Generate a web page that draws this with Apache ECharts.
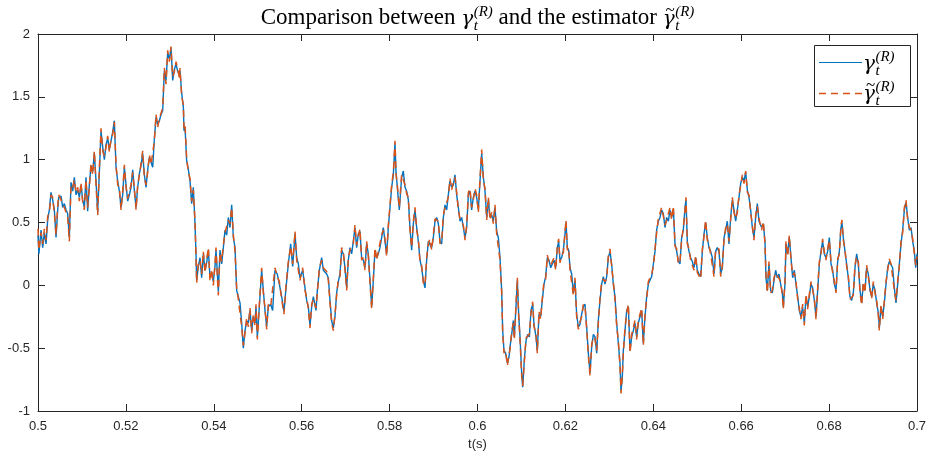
<!DOCTYPE html>
<html>
<head>
<meta charset="utf-8">
<script src="https://cdn.jsdelivr.net/npm/echarts@6/dist/echarts.min.js"></script>
<style>
html,body{margin:0;padding:0;background:#fff;}
#chart{width:930px;height:461px;}
</style>
</head>
<body>
<div id="chart"></div>
<script>
// ---------------- data ----------------
const time = [
0.5,0.5002,0.50069,0.50107,0.50145,0.50183,0.5022,0.50258,0.50296,0.50334,
0.50372,0.5041,0.50448,0.50471,0.50524,0.50562,0.506,0.50638,0.50676,0.50713,
0.50751,0.50789,0.50827,0.50865,0.50903,0.50941,0.50979,0.51017,0.51054,0.51092,
0.5113,0.51168,0.51206,0.51244,0.51282,0.5132,0.51358,0.51396,0.51434,0.51472,
0.5151,0.51548,0.51586,0.51624,0.51662,0.51699,0.51737,0.51775,0.51813,0.51851,
0.51889,0.51927,0.51965,0.52003,0.52041,0.52079,0.52117,0.52155,0.52193,0.52231,
0.52268,0.52306,0.52344,0.52382,0.5242,0.52458,0.52496,0.52534,0.52572,0.5261,
0.52648,0.52686,0.52724,0.52762,0.528,0.52837,0.52875,0.52913,0.52951,0.52989,
0.53027,0.53065,0.53103,0.53141,0.53179,0.53217,
0.53231,0.53269,0.53307,0.53322,0.53345,0.53383,0.53421,0.53459,0.53496,0.53534,
0.53572,0.53595,0.5361,0.53648,0.53686,0.53724,0.53762,0.538,0.53838,0.53876,
0.53914,0.53952,0.53989,0.54027,0.5405,0.5408,0.54103,0.54141,0.54179,0.54217,
0.54255,0.54293,0.54331,0.54369,0.54407,0.54445,0.54483,0.5452,0.54558,0.54596,
0.54634,0.54672,0.5471,0.54748,0.54786,0.54824,0.54862,0.549,0.54938,0.5496,
0.54991,0.55036,0.55089,0.55127,0.55165,0.55203,0.55241,0.55294,0.55339,0.55392,
0.55445,0.55491,0.55544,0.55597,0.55643,0.55696,0.55749,0.55794,0.55848,0.55886,
0.55924,0.55962,0.56022,0.56075,0.56113,0.56151,0.56189,0.56227,0.56265,0.56325,
0.56356,0.56401,0.56454,0.56492,
0.56568,0.56606,0.56644,0.56681,0.56719,0.56757,0.56795,0.56833,0.56871,0.56909,
0.56947,0.56985,0.57023,0.57061,0.57099,0.57137,0.57174,0.57212,0.5725,0.57288,
0.57326,0.57364,0.57402,0.5744,0.57478,0.57516,0.57554,0.57592,0.5763,0.57668,
0.57705,0.57743,0.57781,0.57819,0.57857,0.57895,0.57933,0.57971,0.58009,0.58047,
0.58085,0.58123,0.58145,0.58183,0.58221,0.58274,0.58312,0.5835,0.58388,0.58426,
0.58464,0.58502,0.5854,0.58578,0.58616,0.58654,0.58692,0.58729,0.58767,0.58805,
0.58843,0.58881,0.58919,0.58957,0.58995,0.59033,0.59071,0.59109,0.59147,0.59185,
0.59223,0.59261,0.59298,0.59336,0.59374,0.59412,0.5945,0.59488,0.59526,0.59564,
0.59602,0.5964,0.59678,0.59716,0.59754,0.59792,0.5983,
0.59867,0.59905,0.59943,0.59981,0.60019,0.60057,0.60095,0.60133,0.60171,0.60209,
0.60247,0.60285,0.60323,0.6036,0.60398,0.60436,0.60474,0.60512,0.6055,0.60573,
0.60603,0.60641,0.60679,0.60717,0.6074,0.60778,0.60815,0.60838,0.60876,0.60906,
0.60937,0.60967,0.61005,0.61028,0.61066,0.61104,0.61142,0.6118,0.61217,0.61255,
0.61286,0.61331,0.61361,0.61399,0.61437,0.61475,0.61513,0.61551,0.61589,0.61627,
0.61665,0.61703,0.61741,0.61779,0.61817,0.61847,0.61877,0.61915,0.61953,0.61991,
0.62014,0.62044,0.62074,0.62105,0.62143,0.62181,0.62218,0.62256,0.62294,0.62332,
0.6237,0.62408,0.62446,0.62484,0.62522,0.6256,0.62598,0.62636,0.62674,0.62712,
0.62749,0.62787,
0.62825,0.62863,0.62901,0.62939,0.62977,0.63015,0.63052,0.6309,0.63128,0.63166,
0.63204,0.63242,0.63265,0.63295,0.63318,0.63356,0.63394,0.63432,0.6347,0.63508,
0.63546,0.63583,0.63621,0.63659,0.63697,0.63735,0.63773,0.63811,0.63849,0.63887,
0.63925,0.63963,0.64001,0.64039,0.64076,0.64114,0.64152,0.6419,0.64228,0.64266,
0.64304,0.64342,0.6438,0.64418,0.64456,0.64494,0.64532,0.6457,0.64607,0.64645,
0.64683,0.64721,0.64744,0.64774,0.64812,0.6485,0.64888,0.64926,0.64964,0.65002,
0.6504,0.65078,0.65116,0.65154,0.65191,0.65229,0.65267,0.65305,0.65343,0.65381,
0.65419,0.65457,0.65495,0.65533,0.65571,0.65609,0.65647,0.65684,0.65722,0.6576,
0.65798,0.65836,0.65874,0.65912,0.6595,0.65988,0.66026,0.66064,0.66102,0.6614,
0.66177,0.66215,0.66253,0.66291,0.66329,0.66367,0.66405,
0.66428,0.66465,0.66503,0.66541,0.66564,0.66594,0.66632,0.6667,0.66708,0.66746,
0.66784,0.66822,0.6686,0.66898,0.66936,0.66958,0.66996,0.67019,0.67057,0.67095,
0.67133,0.67171,0.67209,0.67247,0.67285,0.67322,0.6736,0.67398,0.67436,0.67474,
0.67512,0.6755,0.67588,0.67626,0.67664,0.67702,0.6774,0.67778,0.67815,0.67853,
0.67891,0.67929,0.67967,0.68005,0.68043,0.68081,0.68119,0.68157,0.68195,0.68233,
0.6827,0.68293,0.68323,0.68361,0.68399,0.68437,0.68475,0.68513,0.68551,0.68589,
0.68627,0.68665,0.68703,0.68741,0.68778,0.68816,0.68854,0.68892,0.6893,0.68968,
0.69006,0.69044,0.69082,0.6912,0.69143,0.69181,0.69219,0.69257,0.69295,0.69333,
0.69371,0.69409,0.69446,0.69484,0.69522,0.6956,0.69598,0.69636,0.69674,0.69712,
0.6975,0.69788,0.69826,0.69864,0.69902,0.6994,0.6997,0.7
];

// gamma_t^(R)  (blue, solid)
const gammaR = [
0.40,0.25,0.44,0.30,0.42,0.33,0.52,0.60,0.74,0.68,
0.60,0.38,0.60,0.70,0.71,0.62,0.65,0.60,0.57,0.38,
0.82,0.75,0.86,0.72,0.76,0.70,0.80,0.68,0.62,0.86,
0.59,0.80,0.955,0.90,1.05,0.83,0.58,0.90,1.23,1.10,
1.00,1.12,1.17,1.08,1.15,1.22,1.31,0.94,0.83,0.75,
0.62,0.72,0.94,0.80,0.67,0.72,0.78,0.92,0.75,0.62,
0.78,0.89,0.95,1.05,0.88,0.78,0.92,1.02,0.98,0.94,
1.17,1.34,1.28,1.31,1.36,1.39,1.71,1.63,1.85,1.80,
1.89,1.63,1.72,1.76,1.70,1.68,
1.71,1.53,1.42,1.23,1.26,0.99,0.92,0.83,0.65,0.78,
0.49,0.25,0.04,0.15,0.22,0.06,0.25,0.12,0.18,0.28,
0.06,0.10,0.03,0.15,0.28,0.10,-0.05,0.28,0.17,0.30,
0.44,0.40,0.54,0.46,0.64,0.38,0.30,-0.04,-0.09,-0.14,
-0.30,-0.50,-0.36,-0.28,-0.30,-0.20,-0.36,-0.25,-0.30,-0.17,
-0.41,-0.17,0.12,-0.04,-0.20,-0.33,-0.17,-0.15,-0.20,0.12,
0.09,0.01,-0.09,-0.21,-0.02,0.17,0.33,0.15,0.41,0.22,
0.17,0.06,0.12,-0.02,-0.12,-0.17,-0.32,-0.17,-0.09,-0.20,
-0.04,0.12,0.22,0.12,
0.09,0.06,-0.12,-0.28,-0.34,-0.25,-0.06,0.03,0.09,0.28,
0.25,0.14,-0.02,0.20,0.30,0.25,0.35,0.46,0.30,0.41,
0.43,0.22,0.20,0.14,0.33,0.25,0.04,-0.17,0.04,0.28,
0.22,0.25,0.30,0.38,0.46,0.35,0.25,0.46,0.62,0.78,
0.88,1.13,0.91,0.75,0.60,0.86,0.91,0.78,0.75,0.68,
0.46,0.28,0.49,0.60,0.46,0.35,0.20,0.14,0.04,-0.02,
0.20,0.35,0.35,0.30,0.38,0.51,0.54,0.49,0.35,0.33,
0.54,0.64,0.60,0.72,0.83,0.78,0.80,0.88,0.72,0.62,
0.51,0.54,0.46,0.38,0.46,0.72,0.75,
0.60,0.70,0.75,0.70,0.60,0.83,1.05,0.86,0.75,0.54,
0.68,0.54,0.56,0.51,0.62,0.43,0.38,0.22,-0.04,-0.36,
-0.52,-0.54,-0.62,-0.57,-0.49,-0.39,-0.28,-0.41,-0.17,0.04,
-0.23,-0.41,-0.70,-0.81,-0.59,-0.44,-0.39,-0.41,-0.20,-0.15,
-0.31,-0.41,-0.52,-0.23,-0.25,-0.12,0.01,0.07,0.22,0.20,
0.14,0.17,0.20,0.14,0.30,0.35,0.20,0.22,0.28,0.41,
0.50,0.30,0.28,0.14,0.09,-0.06,0.04,-0.23,-0.33,-0.31,
-0.23,-0.17,-0.15,-0.33,-0.54,-0.70,-0.49,-0.39,-0.41,-0.54,
-0.28,-0.12,
0.01,0.07,0.01,0.07,0.22,0.27,0.17,0.01,-0.09,-0.30,
-0.46,-0.62,-0.84,-0.73,-0.52,-0.36,-0.20,-0.17,-0.52,-0.41,
-0.36,-0.30,-0.41,-0.30,-0.25,-0.20,-0.46,-0.25,-0.09,0.01,
0.04,0.07,0.17,0.27,0.44,0.51,0.54,0.60,0.57,0.46,
0.54,0.51,0.60,0.54,0.61,0.33,0.27,0.19,0.17,0.38,
0.44,0.62,0.68,0.35,0.27,0.22,0.19,0.14,0.22,0.12,
0.09,0.07,0.27,0.41,0.50,0.38,0.30,0.27,0.22,0.09,
0.27,0.30,0.27,0.09,0.14,0.38,0.44,0.51,0.33,0.54,
0.68,0.60,0.51,0.60,0.70,0.81,0.86,0.83,0.90,0.76,
0.70,0.60,0.46,0.38,0.54,0.65,0.51,
0.51,0.46,0.49,0.35,0.06,-0.04,0.17,-0.04,-0.06,0.04,
0.12,0.06,0.09,0.01,-0.06,-0.17,0.01,0.33,0.25,0.38,
0.22,0.06,0.12,0.01,-0.09,-0.20,-0.25,-0.17,-0.30,-0.09,
-0.17,-0.09,0.01,-0.02,-0.12,-0.25,-0.04,0.17,0.27,0.35,
0.25,0.22,0.27,0.38,0.17,0.12,0.01,-0.04,0.19,0.27,
0.46,0.50,0.38,0.27,0.17,0.06,-0.09,-0.12,-0.06,0.14,
0.25,0.17,-0.04,-0.14,0.01,-0.04,0.14,0.09,-0.04,-0.09,
0.01,-0.04,-0.14,-0.22,-0.34,-0.17,-0.25,-0.14,0.01,0.14,
0.19,0.19,0.14,-0.02,-0.14,0.01,0.17,0.33,0.44,0.60,
0.66,0.54,0.44,0.46,0.35,0.27,0.14,0.25
];

// estimator ~gamma_t^(R)  (orange, dashed)
const gammaHat = [
0.45,0.28,0.42,0.33,0.45,0.36,0.55,0.58,0.72,0.70,
0.57,0.40,0.63,0.72,0.68,0.64,0.62,0.63,0.54,0.35,
0.80,0.78,0.84,0.74,0.78,0.67,0.82,0.66,0.60,0.84,
0.62,0.78,0.97,0.88,1.07,0.80,0.56,0.93,1.25,1.07,
1.03,1.10,1.19,1.06,1.17,1.20,1.30,0.96,0.80,0.78,
0.60,0.75,0.96,0.78,0.69,0.70,0.80,0.90,0.77,0.60,
0.80,0.87,0.97,1.07,0.86,0.80,0.90,1.04,0.96,0.97,
1.15,1.36,1.26,1.33,1.34,1.41,1.73,1.60,1.87,1.78,
1.90,1.66,1.70,1.78,1.72,1.65,
1.73,1.50,1.44,1.25,1.28,1.01,0.90,0.85,0.67,0.76,
0.51,0.23,0.02,0.18,0.20,0.09,0.27,0.10,0.21,0.30,
0.03,0.13,0.00,0.17,0.30,0.07,-0.08,0.26,0.19,0.32,
0.42,0.43,0.52,0.49,0.62,0.40,0.27,-0.02,-0.11,-0.12,
-0.33,-0.48,-0.38,-0.26,-0.33,-0.18,-0.38,-0.23,-0.32,-0.15,
-0.43,-0.15,0.14,-0.06,-0.18,-0.35,-0.15,-0.17,-0.18,0.14,
0.07,0.03,-0.11,-0.23,0.00,0.19,0.31,0.17,0.43,0.20,
0.19,0.04,0.14,-0.04,-0.10,-0.19,-0.34,-0.15,-0.11,-0.18,
-0.06,0.14,0.20,0.14,
0.11,0.04,-0.14,-0.30,-0.36,-0.23,-0.08,0.05,0.07,0.30,
0.27,0.12,-0.04,0.22,0.28,0.27,0.33,0.48,0.32,0.39,
0.45,0.20,0.22,0.12,0.35,0.23,0.02,-0.19,0.06,0.30,
0.20,0.27,0.28,0.40,0.44,0.37,0.23,0.48,0.64,0.80,
0.90,1.15,0.89,0.77,0.62,0.88,0.89,0.80,0.73,0.70,
0.44,0.30,0.51,0.62,0.44,0.37,0.18,0.16,0.02,0.00,
0.22,0.33,0.37,0.28,0.40,0.53,0.52,0.51,0.33,0.35,
0.56,0.62,0.62,0.70,0.85,0.76,0.82,0.86,0.74,0.60,
0.53,0.52,0.48,0.36,0.48,0.74,0.77,
0.62,0.68,0.77,0.72,0.58,0.85,1.08,0.84,0.77,0.52,
0.70,0.52,0.58,0.49,0.64,0.41,0.40,0.20,-0.06,-0.38,
-0.54,-0.52,-0.64,-0.55,-0.51,-0.37,-0.30,-0.43,-0.15,0.06,
-0.25,-0.43,-0.72,-0.80,-0.61,-0.42,-0.41,-0.39,-0.22,-0.13,
-0.33,-0.39,-0.54,-0.21,-0.27,-0.10,0.03,0.05,0.24,0.18,
0.16,0.15,0.22,0.12,0.32,0.37,0.18,0.24,0.26,0.43,
0.52,0.28,0.30,0.12,0.11,-0.08,0.06,-0.25,-0.35,-0.29,
-0.25,-0.15,-0.17,-0.35,-0.56,-0.72,-0.47,-0.41,-0.43,-0.52,
-0.30,-0.10,
0.03,0.05,0.03,0.05,0.24,0.29,0.15,0.03,-0.11,-0.32,
-0.44,-0.64,-0.86,-0.71,-0.54,-0.34,-0.22,-0.15,-0.54,-0.39,
-0.38,-0.28,-0.43,-0.28,-0.27,-0.18,-0.48,-0.23,-0.11,0.03,
0.02,0.09,0.15,0.29,0.42,0.53,0.52,0.62,0.55,0.48,
0.52,0.53,0.62,0.52,0.63,0.31,0.29,0.17,0.19,0.36,
0.46,0.60,0.70,0.33,0.29,0.20,0.21,0.12,0.24,0.10,
0.11,0.05,0.29,0.39,0.52,0.36,0.32,0.25,0.24,0.07,
0.29,0.28,0.29,0.07,0.16,0.36,0.46,0.49,0.35,0.52,
0.70,0.58,0.53,0.58,0.72,0.79,0.88,0.81,0.91,0.74,
0.72,0.58,0.48,0.36,0.56,0.63,0.53,
0.53,0.44,0.51,0.33,0.08,-0.06,0.19,-0.06,-0.04,0.06,
0.10,0.08,0.07,0.03,-0.08,-0.19,0.03,0.35,0.23,0.40,
0.20,0.08,0.10,0.03,-0.11,-0.18,-0.27,-0.15,-0.32,-0.07,
-0.19,-0.07,0.03,-0.04,-0.10,-0.27,-0.02,0.19,0.25,0.37,
0.27,0.20,0.29,0.36,0.19,0.10,0.03,-0.06,0.21,0.25,
0.48,0.52,0.36,0.29,0.15,0.08,-0.11,-0.10,-0.08,0.16,
0.23,0.19,-0.06,-0.16,0.03,-0.06,0.16,0.07,-0.02,-0.11,
0.03,-0.06,-0.12,-0.24,-0.36,-0.15,-0.27,-0.12,0.03,0.12,
0.21,0.17,0.16,-0.04,-0.12,0.03,0.15,0.35,0.42,0.62,
0.68,0.52,0.46,0.44,0.37,0.25,0.16,0.23
];

const xTicks = {min: 0.5, max: 0.7, interval: 0.02};
const yTicks = {min: -1, max: 2, interval: 0.5};
const seriesNames = ['gamma', 'gammaHat'];

// ---------------- chart ----------------
const BLUE = '#0072BD', ORANGE = '#D95319', AX = '#262626';
const chart = echarts.init(document.getElementById('chart'), null, {renderer: 'canvas'});

const toPairs = arr => time.map((t, i) => [t, arr[i]]);

const cv = document.createElement('canvas').getContext('2d');
function tw(text, font) { cv.font = font; return cv.measureText(text).width; }

const SERIF = '"Liberation Serif", "DejaVu Serif", serif';
const F_MAIN = '23px ' + SERIF;
const F_G = 'italic 20px "DejaVu Serif", serif';
const F_SC = 'italic 15px ' + SERIF;

function gammaGroup(x, yBase, tilde, els) {
  els.push({type: 'text', x: x, y: yBase + 1, z: 100,
    style: {text: 'γ', font: F_G, fill: '#000', verticalAlign: 'bottom'}});
  const gw = tw('γ', F_G);
  if (tilde) {
    els.push({type: 'text', x: x + gw / 2 + 1.5, y: yBase - 10, z: 100,
      style: {text: '~', font: '17px ' + SERIF, fill: '#000', align: 'center', verticalAlign: 'bottom'}});
  }
  const sx = x + gw + 0.5;
  els.push({type: 'text', x: sx, y: yBase - 9, z: 100,
    style: {text: '(R)', font: F_SC, fill: '#000', verticalAlign: 'bottom'}});
  els.push({type: 'text', x: sx, y: yBase + 5, z: 100,
    style: {text: 't', font: F_SC, fill: '#000', verticalAlign: 'bottom'}});
  return gw + 0.5 + tw('(R)', F_SC);
}

const graphics = [];
(function () {
  const partA = 'Comparison between ';
  const partB = ' and the estimator ';
  const gW = tw('γ', F_G) + 0.5 + tw('(R)', F_SC);
  const total = tw(partA, F_MAIN) + gW + tw(partB, F_MAIN) + gW;
  const cx = (38 + 917) / 2;
  let x = cx - total / 2;
  const yb = 29;
  graphics.push({type: 'text', x: x, y: yb, z: 100,
    style: {text: partA, font: F_MAIN, fill: '#000', verticalAlign: 'bottom'}});
  x += tw(partA, F_MAIN);
  x += gammaGroup(x, yb, false, graphics);
  graphics.push({type: 'text', x: x, y: yb, z: 100,
    style: {text: partB, font: F_MAIN, fill: '#000', verticalAlign: 'bottom'}});
  x += tw(partB, F_MAIN);
  gammaGroup(x, yb, true, graphics);
})();

// legend box (MATLAB style)
graphics.push({type: 'rect', z: 100, shape: {x: 814.5, y: 45.5, width: 96, height: 61},
  style: {fill: '#fff', stroke: AX, lineWidth: 1}});
graphics.push({type: 'line', z: 101, shape: {x1: 819, y1: 62.5, x2: 862, y2: 62.5},
  style: {stroke: BLUE, lineWidth: 1.2}});
graphics.push({type: 'line', z: 101, shape: {x1: 819, y1: 93.5, x2: 862, y2: 93.5},
  style: {stroke: ORANGE, lineWidth: 1.5, lineDash: [7, 5]}});
gammaGroup(863, 74, false, graphics);
gammaGroup(863, 104, true, graphics);

const axisCommon = {
  type: 'value',
  axisLine: {show: true, onZero: false, lineStyle: {color: AX, width: 1}},
  axisTick: {show: true, inside: true, length: 7, lineStyle: {color: AX, width: 1}},
  splitLine: {show: false},
};

const labelStyle = {color: AX, fontSize: 13, fontFamily: '"Liberation Sans", Arial, sans-serif'};

const option = {
  animation: false,
  backgroundColor: '#fff',
  grid: {left: 38, right: 13, top: 34, bottom: 50, containLabel: false},
  xAxis: [
    Object.assign({}, axisCommon, {
      position: 'bottom', min: xTicks.min, max: xTicks.max, interval: xTicks.interval,
      axisLabel: Object.assign({margin: 9}, labelStyle),
      name: 't(s)', nameLocation: 'middle', nameGap: 23,
      nameTextStyle: labelStyle
    }),
    Object.assign({}, axisCommon, {
      position: 'top', min: xTicks.min, max: xTicks.max, interval: xTicks.interval,
      axisLabel: {show: false}
    })
  ],
  yAxis: [
    Object.assign({}, axisCommon, {
      position: 'left', min: yTicks.min, max: yTicks.max, interval: yTicks.interval,
      axisLabel: Object.assign({margin: 8}, labelStyle)
    }),
    Object.assign({}, axisCommon, {
      position: 'right', min: yTicks.min, max: yTicks.max, interval: yTicks.interval,
      axisLabel: {show: false}
    })
  ],
  series: [
    {
      name: seriesNames[0], type: 'line', xAxisIndex: 0, yAxisIndex: 0,
      data: toPairs(gammaR), showSymbol: false, symbol: 'none',
      lineStyle: {color: BLUE, width: 1.4}, itemStyle: {color: BLUE}, z: 2
    },
    {
      name: seriesNames[1], type: 'line', xAxisIndex: 0, yAxisIndex: 0,
      data: toPairs(gammaHat), showSymbol: false, symbol: 'none',
      lineStyle: {color: ORANGE, width: 1.5, type: [7, 5]}, itemStyle: {color: ORANGE}, z: 3
    }
  ],
  graphic: graphics
};

if (time.length !== gammaR.length || time.length !== gammaHat.length) {
  graphics.push({type: 'text', x: 100, y: 100, z: 200,
    style: {text: 'LEN ' + time.length + ' ' + gammaR.length + ' ' + gammaHat.length, fill: 'red', font: '20px sans-serif'}});
}

chart.setOption(option);
</script>
</body>
</html>
